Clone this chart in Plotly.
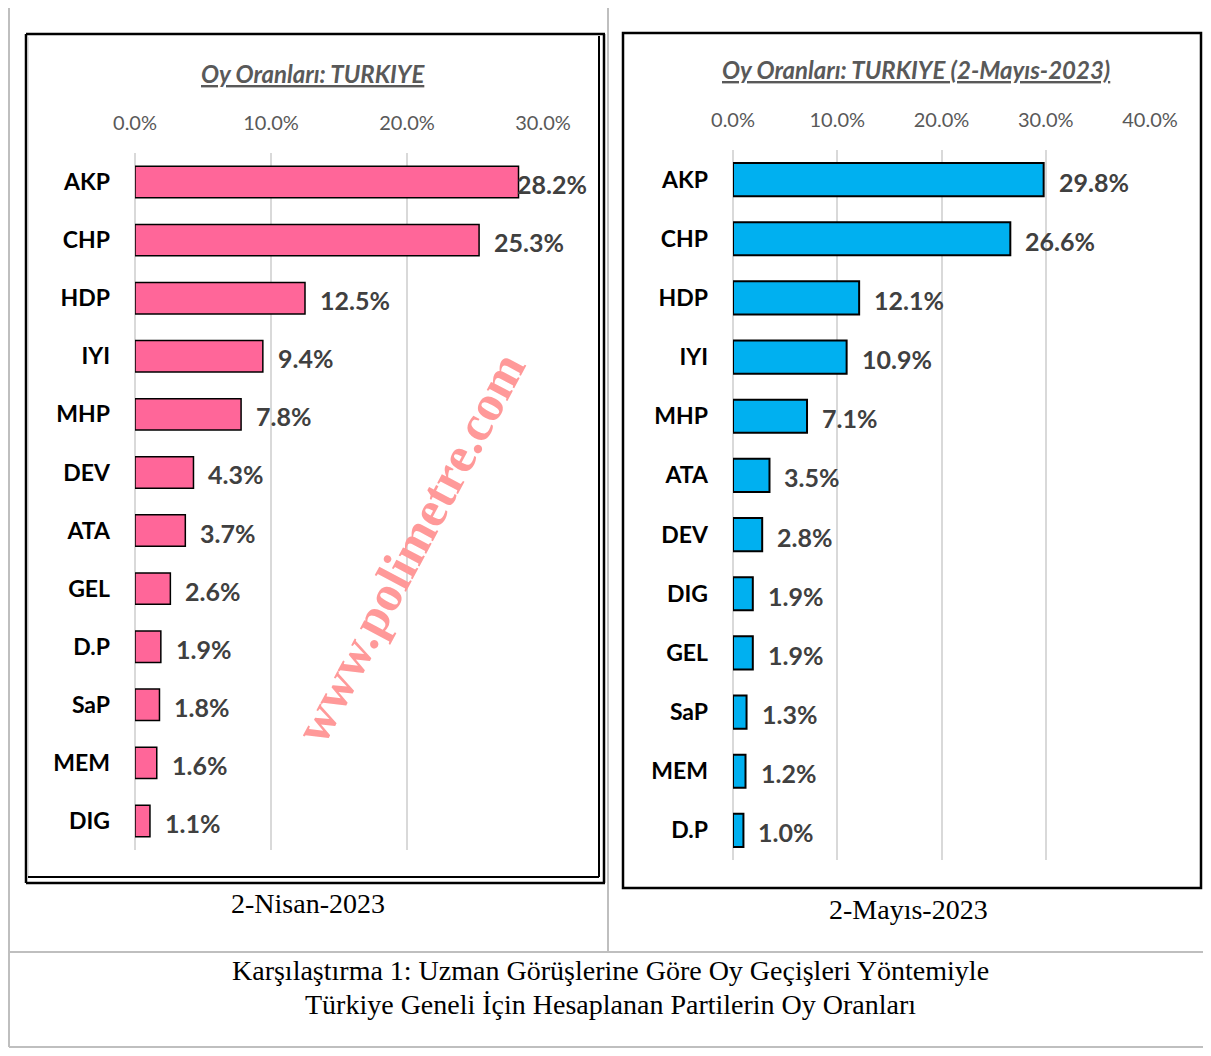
import plotly.graph_objects as go

# ---------------- data ----------------
parties_apr = ["AKP", "CHP", "HDP", "IYI", "MHP", "DEV", "ATA", "GEL", "D.P", "SaP", "MEM", "DIG"]
values_apr = [0.282, 0.253, 0.125, 0.094, 0.078, 0.043, 0.037, 0.026, 0.019, 0.018, 0.016, 0.011]

parties_may = ["AKP", "CHP", "HDP", "IYI", "MHP", "ATA", "DEV", "DIG", "GEL", "SaP", "MEM", "D.P"]
values_may = [0.298, 0.266, 0.121, 0.109, 0.071, 0.035, 0.028, 0.019, 0.019, 0.013, 0.012, 0.010]

title_apr = "Oy Oranları: TURKIYE"
title_may = "Oy Oranları: TURKIYE (2-Mayıs-2023)"
caption_apr = "2-Nisan-2023"
caption_may = "2-Mayıs-2023"
caption_main = ["Karşılaştırma 1: Uzman Görüşlerine Göre Oy Geçişleri Yöntemiyle",
                "Türkiye Geneli İçin Hesaplanan Partilerin Oy Oranları"]
watermark = "www.polimetre.com"

# ---------------- layout helpers ----------------
# the page body has an 8px default margin, so the figure starts at (8, 8)
OFF = 8
W, H = 1211 - 2 * OFF, 1056 - 2 * OFF
def px(x):
    return (x - OFF) / W
def py(y):
    return 1 - (y - OFF) / H

FONT = "Lato, 'Open Sans', sans-serif"
SERIF = "'Liberation Serif', 'Times New Roman', serif"
PINK = "#FF6699"
BLUE = "#00B0F0"
GRID = "#D9D9D9"
TICK = "#595959"
LABEL = "#404040"

fig = go.Figure()

fig.add_trace(go.Bar(
    x=values_apr, y=parties_apr, orientation="h", width=0.54,
    marker=dict(color=PINK, line=dict(color="black", width=1.5)),
    xaxis="x", yaxis="y", hoverinfo="x+y", showlegend=False,
))
fig.add_trace(go.Bar(
    x=values_may, y=parties_may, orientation="h", width=0.56,
    marker=dict(color=BLUE, line=dict(color="black", width=2)),
    xaxis="x2", yaxis="y2", hoverinfo="x+y", showlegend=False,
))

xcommon = dict(side="top", tickformat=".1%", showgrid=True, gridcolor=GRID, gridwidth=1.5,
               zeroline=True, zerolinecolor=GRID, zerolinewidth=1.5, showline=False,
               ticks="", tickfont=dict(family=FONT, size=20, color=TICK),
               ticklabelstandoff=18, fixedrange=True, automargin=False)
ycommon = dict(type="category", autorange="reversed", showgrid=False, zeroline=False,
               showline=False, ticks="", ticklabelstandoff=24, automargin=False,
               tickfont=dict(family=FONT, size=23, color="black", weight="bold"), fixedrange=True)

fig.update_layout(
    width=W, height=H, autosize=False,
    margin=dict(l=0, r=0, t=0, b=0, pad=0, autoexpand=False),
    paper_bgcolor="white", plot_bgcolor="white",
    xaxis=dict(domain=[px(135), px(543)], range=[0, 0.3], dtick=0.1, anchor="y", **xcommon),
    yaxis=dict(domain=[py(850), py(153)], anchor="x", **ycommon),
    xaxis2=dict(domain=[px(733), px(1150)], range=[0, 0.4], dtick=0.1, anchor="y2", **xcommon),
    yaxis2=dict(domain=[py(860), py(150)], anchor="x2", **ycommon),
)

annotations = []
# data labels
def add_labels(parties, values, xref, yref, axmax):
    for p, v in zip(parties, values):
        overflow = v > 0.9 * axmax
        annotations.append(dict(
            x=v, y=p, xref=xref, yref=yref, text=f"{v*100:.1f}%",
            showarrow=False, xanchor="left", yanchor="middle",
            xshift=-4 if overflow else 13, yshift=-2,
            font=dict(family=FONT, size=25, color=LABEL, weight="bold"),
        ))
add_labels(parties_apr, values_apr, "x", "y", 0.3)
add_labels(parties_may, values_may, "x2", "y2", 0.4)

# titles
annotations.append(dict(x=px(313), y=py(73), xref="paper", yref="paper", showarrow=False,
                        text=f"<u><i><b>{title_apr}</b></i></u>", xanchor="center", yanchor="middle",
                        font=dict(family=FONT, size=24, color=TICK)))
annotations.append(dict(x=px(916), y=py(69), xref="paper", yref="paper", showarrow=False,
                        text=f"<u><i><b>{title_may}</b></i></u>", xanchor="center", yanchor="middle",
                        font=dict(family=FONT, size=24, color=TICK)))
# captions
annotations.append(dict(x=px(308), y=py(903), xref="paper", yref="paper", showarrow=False,
                        text=caption_apr, xanchor="center", yanchor="middle",
                        font=dict(family=SERIF, size=28, color="black")))
annotations.append(dict(x=px(908), y=py(909), xref="paper", yref="paper", showarrow=False,
                        text=caption_may, xanchor="center", yanchor="middle",
                        font=dict(family=SERIF, size=28, color="black")))
for i, line in enumerate(caption_main):
    annotations.append(dict(x=px(610), y=py(970 + 34 * i), xref="paper", yref="paper", showarrow=False,
                            text=line, xanchor="center", yanchor="middle",
                            font=dict(family=SERIF, size=28, color="black")))
# watermark
annotations.append(dict(x=px(410), y=py(548), xref="paper", yref="paper", showarrow=False,
                        text=f"<b>{watermark}</b>", textangle=-62, xanchor="center", yanchor="middle",
                        font=dict(family=SERIF, size=51, color="#FF9999")))
fig.update_layout(annotations=annotations)

# frames and table lines
shapes = []
def line(x0, y0, x1, y1, color, width):
    shapes.append(dict(type="line", xref="paper", yref="paper", x0=px(x0), y0=py(y0), x1=px(x1), y1=py(y1),
                       line=dict(color=color, width=width), layer="above"))
TABLE = "#BFBFBF"
BOTTOM = OFF + H - 1
RIGHT = OFF + W
line(9, 0, 9, BOTTOM, TABLE, 2)
line(608, 0, 608, 952, TABLE, 2)
line(9, 952, RIGHT, 952, TABLE, 2)
line(9, BOTTOM, RIGHT, BOTTOM, TABLE, 2)
# left frame (double on right and bottom)
line(26, 34, 605, 34, "black", 2.5)
line(26, 34, 26, 883, "black", 2.5)
line(26, 883, 605, 883, "black", 2.5)
line(604, 34, 604, 883, "black", 2.5)
line(599, 36, 599, 877, "black", 2)
line(28, 877, 599, 877, "black", 2)
line(28, 37, 28, 876, "#C8C8C8", 1)
# right frame
shapes.append(dict(type="rect", xref="paper", yref="paper", x0=px(623), y0=py(33), x1=px(RIGHT - 2), y1=py(888),
                   line=dict(color="black", width=2.5), layer="above"))
fig.update_layout(shapes=shapes)

fig.write_html("out.html")
